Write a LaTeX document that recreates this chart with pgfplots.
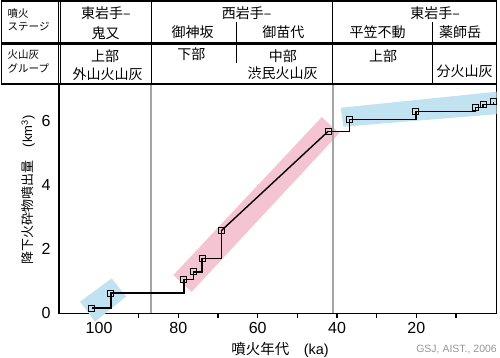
\documentclass[border=0pt]{standalone}
\usepackage{fontspec}
\setmainfont{Liberation Sans}
\newfontfamily\jp{Noto Sans CJK JP}
\usepackage{pgfplots}
\pgfplotsset{compat=1.18}
\definecolor{bandblue}{RGB}{192,226,241}
\definecolor{bandpink}{RGB}{244,196,211}
\definecolor{vgray}{RGB}{165,165,165}
\definecolor{credit}{RGB}{150,150,150}
\begin{document}
\begin{tikzpicture}
\useasboundingbox (0,0) rectangle (500pt,358pt);
\begin{axis}[
  at={(59pt,44.7pt)}, anchor=south west,
  scale only axis, width=437.7pt, height=229.3pt,
  x dir=reverse, xmin=-0.25, xmax=110.1, ymin=0, ymax=7.14,
  clip=false,
  xtick={20,40,60,80,100}, minor xtick={10,30,50,70,90},
  ytick={0,2,4,6},
  tick pos=left, tick align=outside,
  major tick length=5pt, minor tick length=5pt,
  ytick style={draw=none},
  xtick style={line width=1.2pt, black},
  minor tick style={line width=1.2pt, black},
  axis line style={line width=1.2pt},
  tick label style={font=\fontsize{16}{18}\selectfont},
  /pgf/number format/assume math mode=true,
  xlabel={{\jp 噴火年代　}(ka)},
  xlabel style={font=\fontsize{14.5}{16}\selectfont, at={(axis description cs:0.505,-0.16)}, anchor=center},
  ylabel={{\jp 降下火砕物噴出量　}(km\textsuperscript{3})},
  ylabel style={font=\fontsize{13}{15}\selectfont, at={(axis description cs:-0.0708,0.538)}, anchor=center},
]
% shaded bands
\addplot[fill=bandblue, draw=none] coordinates {(104.79,0.36) (96.80,1.09) (93.19,0.52) (101.01,-0.26)} -- cycle;
\addplot[fill=bandpink, draw=none] coordinates {(81.27,1.19) (76.63,0.67) (39.43,5.61) (43.86,6.11)} -- cycle;
\addplot[fill=bandblue, draw=none] coordinates {(39.07,6.40) (38.42,5.81) (-0.25,6.20) (-0.25,6.90)} -- cycle;
% stage boundaries
\addplot[vgray, line width=2pt] coordinates {(86.8,0) (86.8,7.14)};
\addplot[vgray, line width=2pt] coordinates {(41.1,0) (41.1,7.14)};
% cumulative volume
\addplot[black, line width=1.4pt, const plot, mark=square, mark size=3pt, mark options={solid, line width=1pt}]
  coordinates {(101.8,0.16) (97.0,0.63) (78.6,1.06) (76.2,1.29) (74.0,1.71) (69.2,2.57)};
\addplot[black, line width=1.4pt] coordinates {(69.2,2.57) (42.2,5.67)};
\addplot[black, line width=1.4pt, const plot, mark=square, mark size=3pt, mark options={solid, line width=1pt}]
  coordinates {(42.2,5.67) (36.9,6.03) (20.1,6.28) (5.1,6.40) (3.2,6.51) (0.6,6.59)};
\end{axis}
% header table (pixel coordinates, y downward)
\begin{scope}[x=1pt, y=-1pt, yshift=358pt]
\draw[line width=1.2pt] (1.5,1) rectangle (496.7,84);
\draw[line width=2.4pt] (1.5,43.5) -- (496.7,43.5);
\draw[line width=0.9pt] (58.1,1) -- (58.1,84);
\draw[line width=0.9pt] (60.6,1) -- (60.6,84);
\draw[line width=1.2pt] (151.3,1) -- (151.3,84);
\draw[line width=1.2pt] (332.7,1) -- (332.7,84);
\draw[line width=1.2pt] (236.7,22) -- (236.7,63);
\draw[line width=1.2pt] (432.5,22) -- (432.5,84);
\begin{scope}[every node/.style={font=\jp\fontsize{10.5}{12}\selectfont, anchor=west, inner sep=0pt}]
\node at (7.5,13.3) {噴火};
\node at (7.5,26.5) {ステージ};
\node at (7.5,55) {火山灰};
\node at (7.5,68.5) {グループ};
\end{scope}
\begin{scope}[every node/.style={font=\jp\fontsize{14}{16}\selectfont, inner sep=0pt}]
\node at (106,12.7) {東岩手–};
\node at (105.5,33.3) {鬼又};
\node at (105,56.7) {上部};
\node at (107.5,74) {外山火山灰};
\node at (246.7,12.7) {西岩手–};
\node at (192.5,31.7) {御神坂};
\node at (283.3,31.7) {御苗代};
\node at (191.3,54.3) {下部};
\node at (282.8,56) {中部};
\node at (282.5,73.3) {渋民火山灰};
\node at (435,12.7) {東岩手–};
\node at (377.7,31.7) {平笠不動};
\node at (460,31.7) {薬師岳};
\node at (383,56) {上部};
\node at (464.5,71.7) {分火山灰};
\end{scope}
\node[anchor=east, text=credit, font=\fontsize{10.5}{12}\selectfont, inner sep=0pt] at (497,350) {GSJ, AIST., 2006};
\end{scope}
\end{tikzpicture}
\end{document}
